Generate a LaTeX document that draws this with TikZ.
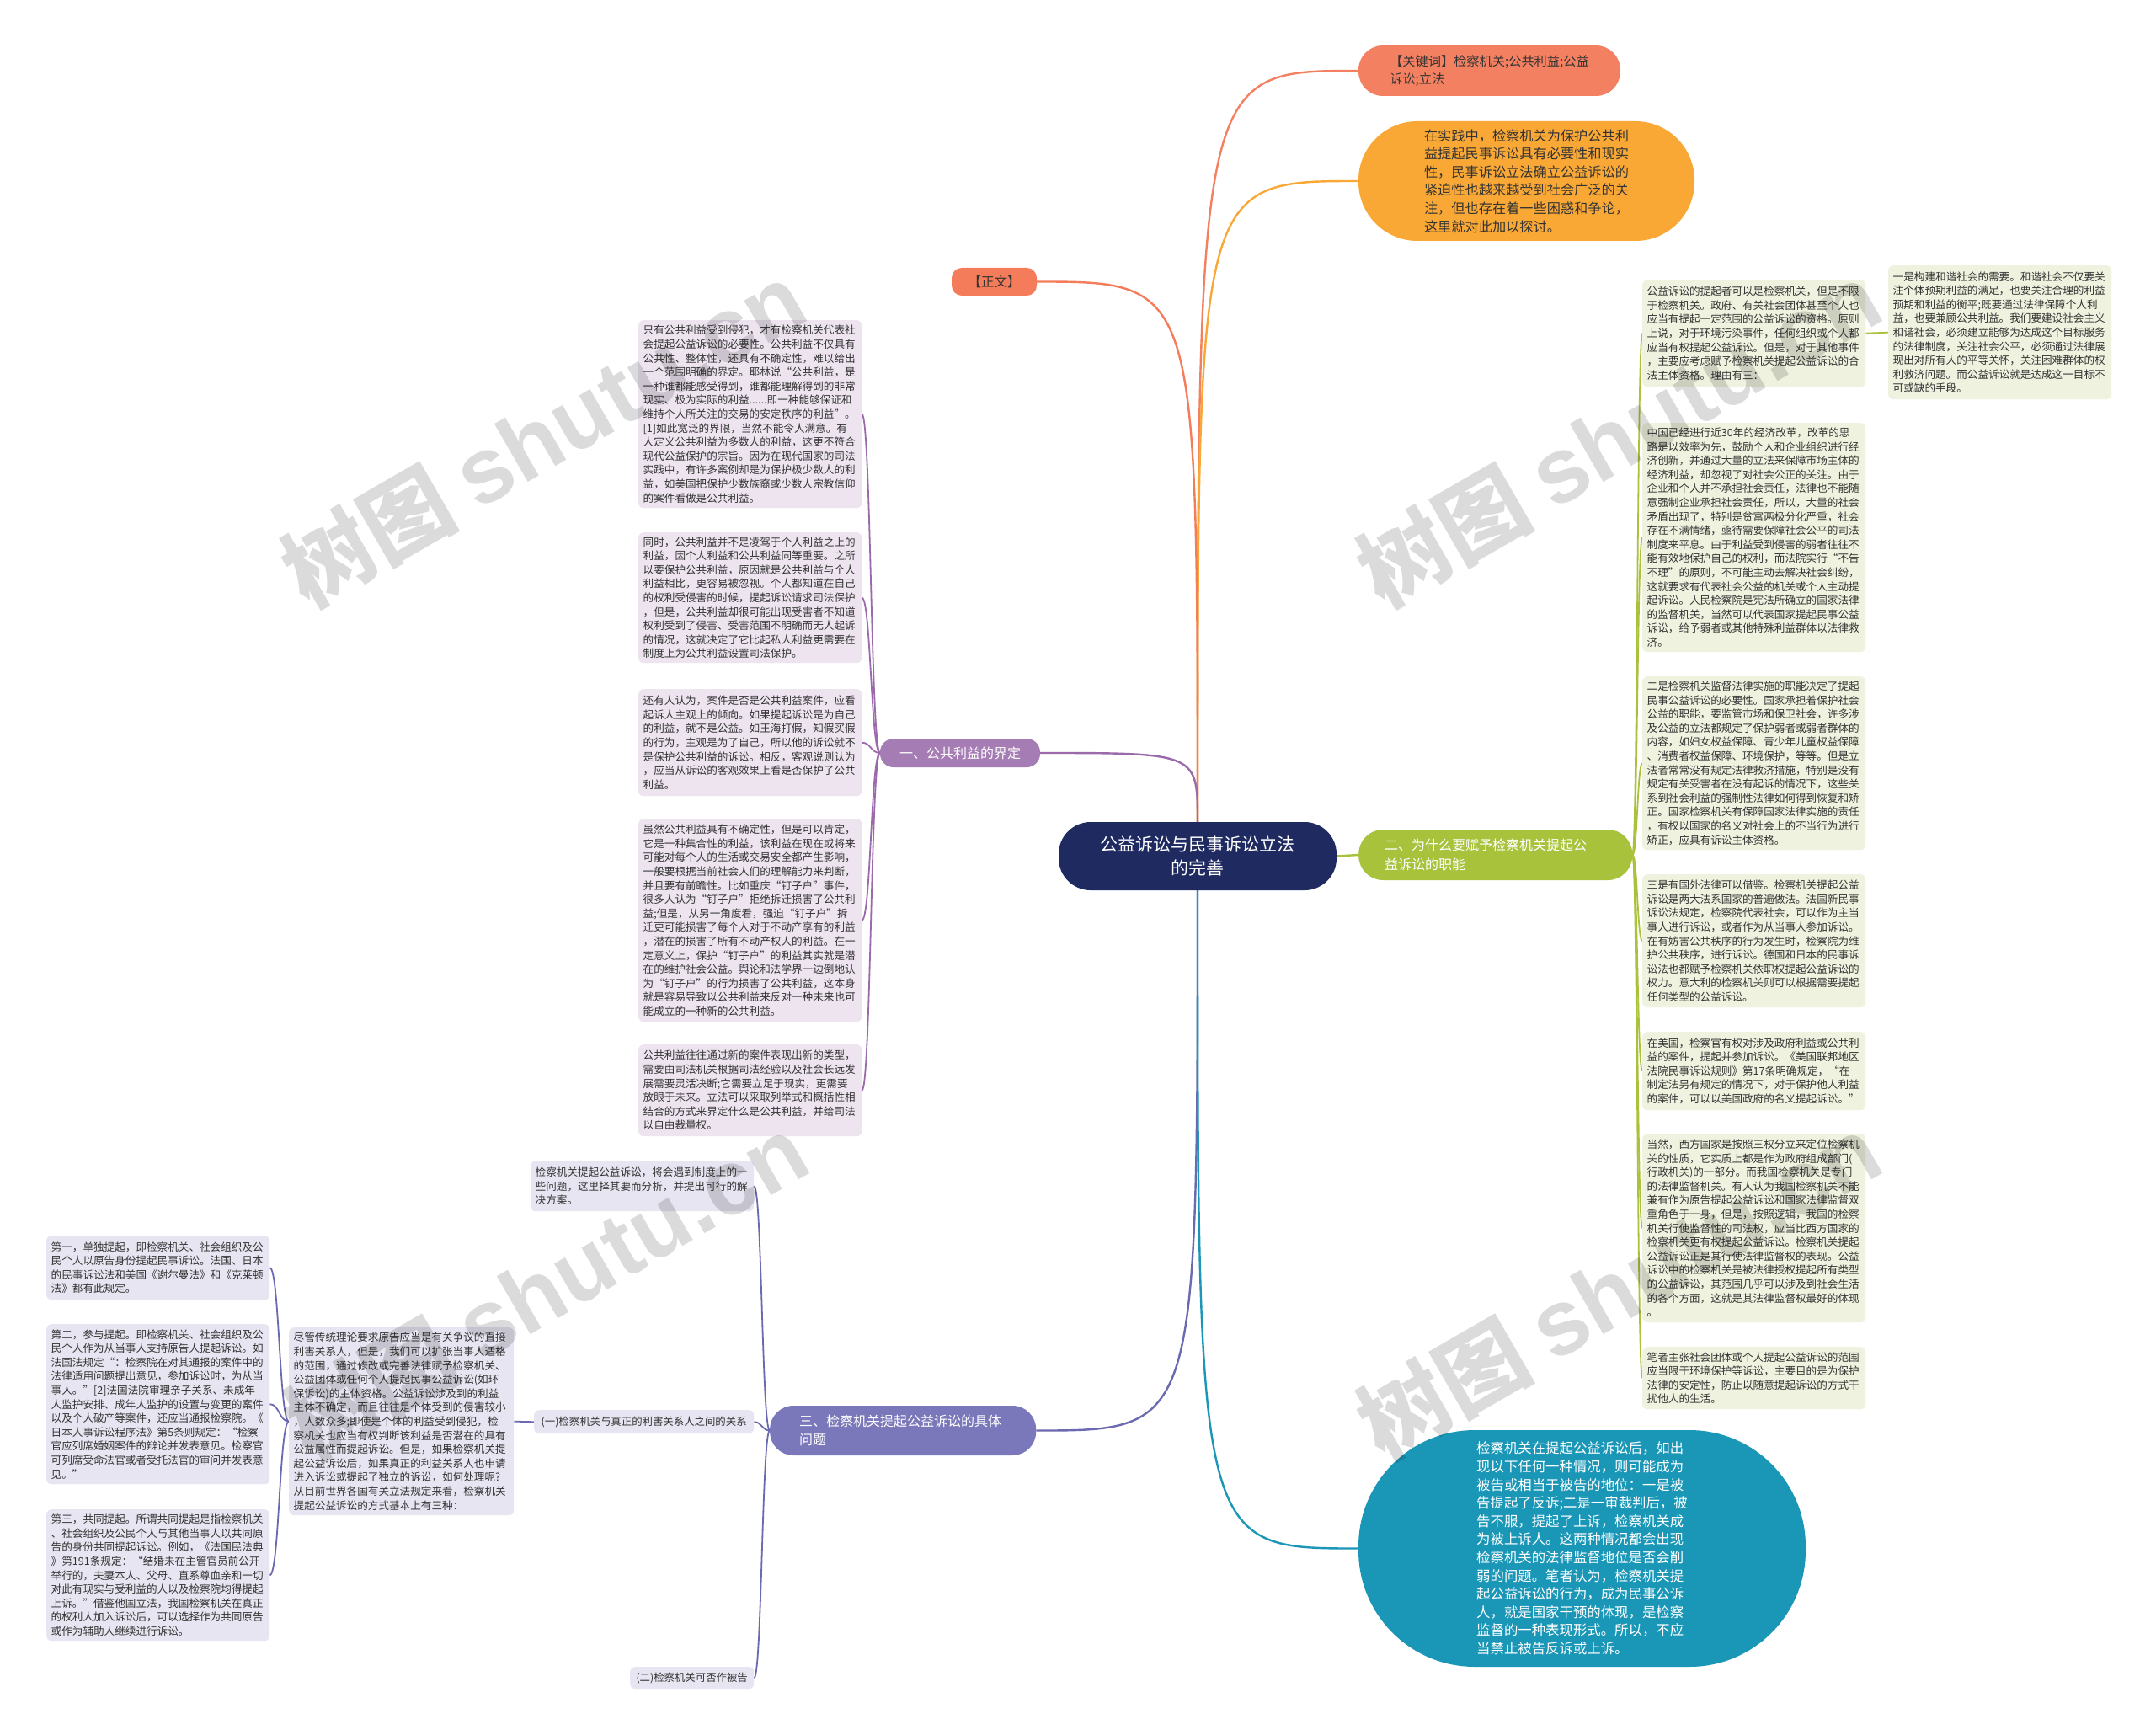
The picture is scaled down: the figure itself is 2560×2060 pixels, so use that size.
\documentclass[tikz,border=0pt]{standalone}
\usepackage{fontspec}
\setmainfont{Noto Sans CJK SC}
\newfontfamily\wmsans{Liberation Sans}
\usetikzlibrary{calc,backgrounds}
\definecolor{cKey}{HTML}{F38060}
\definecolor{cOra}{HTML}{F9A836}
\definecolor{cZw}{HTML}{F47C5A}
\definecolor{cOne}{HTML}{A57CB3}
\definecolor{cOneL}{HTML}{9A6AAA}
\definecolor{cTwo}{HTML}{A8C23C}
\definecolor{cThr}{HTML}{7A78BA}
\definecolor{cThrL}{HTML}{6B69B0}
\definecolor{cTeal}{HTML}{1A96B7}
\definecolor{cCen}{HTML}{1E2A60}
\definecolor{fOne}{HTML}{EDE4F0}
\definecolor{fTwo}{HTML}{EFF2DE}
\definecolor{fThr}{HTML}{E6E5F1}
\definecolor{tx}{HTML}{333333}
\newcommand\mmS[3]{\draw[#1] let \p1=(#2), \p2=(#3) in (\p1) .. controls ({0.5*\x1+0.5*\x2},\y1) and ({0.5*\x1+0.5*\x2},\y2) .. (\p2);}
\newcommand\mmQ[3]{\draw[#1] let \p1=(#2), \p2=(#3) in (\p1) .. controls (\x1,\y2) .. (\p2);}
\tikzset{
  every node/.style={inner sep=0pt},
  box/.style={anchor=north west, rounded corners=6pt, text width=254pt, inner xsep=5.5pt, inner ysep=3pt, align=left, text=tx, font=\fontsize{12.6}{16.6}\selectfont},
  bone/.style={box, fill=fOne},
  btwo/.style={box, fill=fTwo},
  bthr/.style={box, fill=fThr},
  mainline/.style={line width=2.4pt},
  subline/.style={line width=1.8pt},
  wm/.style={rotate=30, text=black, text opacity=0.14, font=\fontsize{105}{110}\selectfont\bfseries},
}
\begin{document}
\begin{tikzpicture}[x=1pt,y=-1pt]
\useasboundingbox (0,0) rectangle (2560,2060);

% central and first-level nodes
\node (cen) [fill=cCen, rounded corners=38pt, minimum width=330pt, minimum height=81pt, align=center, text=white, font=\fontsize{21}{28}\selectfont] at (1422,1016.5) {公益诉讼与民事诉讼立法\\的完善};
\node (kw) [fill=cKey, rounded corners=29pt, minimum width=311pt, minimum height=60pt, align=left, text=tx, font=\fontsize{15.2}{21.7}\selectfont] at (1768.5,84) {【关键词】检察机关;公共利益;公益\\诉讼;立法};
\node (ora) [fill=cOra, rounded corners=70pt, minimum width=399pt, minimum height=142pt, align=left, text=tx, font=\fontsize{16.2}{21.6}\selectfont] at (1812.5,215) {在实践中，检察机关为保护公共利\\益提起民事诉讼具有必要性和现实\\性，民事诉讼立法确立公益诉讼的\\紧迫性也越来越受到社会广泛的关\\注，但也存在着一些困惑和争论，\\这里就对此加以探讨。};
\node (zw) [fill=cZw, rounded corners=12pt, minimum width=101pt, minimum height=33pt, text=tx, font=\fontsize{15.5}{18}\selectfont] at (1180.5,334.5) {【正文】};
\node (one) [fill=cOne, rounded corners=16pt, minimum width=190pt, minimum height=34pt, text=white, font=\fontsize{16}{20}\selectfont] at (1140,894) {一、公共利益的界定};
\node (two) [anchor=west, fill=cTwo, rounded corners=29pt, text width=263pt, inner xsep=31pt, minimum height=60pt, align=left, text=white, font=\fontsize{16}{22.5}\selectfont] at (1613,1015) {二、为什么要赋予检察机关提起公\\益诉讼的职能};
\node (thr) [anchor=west, fill=cThr, rounded corners=28pt, text width=246pt, inner xsep=35pt, minimum height=59pt, align=left, text=white, font=\fontsize{16}{22.5}\selectfont] at (914,1698.5) {三、检察机关提起公益诉讼的具体\\问题};
\node (teal) [fill=cTeal, rounded corners=138pt, minimum width=531pt, minimum height=281pt, align=left, text=white, font=\fontsize{16.4}{21.6}\selectfont] at (1878.5,1838.5) {检察机关在提起公益诉讼后，如出\\现以下任何一种情况，则可能成为\\被告或相当于被告的地位：一是被\\告提起了反诉;二是一审裁判后，被\\告不服，提起了上诉，检察机关成\\为被上诉人。这两种情况都会出现\\检察机关的法律监督地位是否会削\\弱的问题。笔者认为，检察机关提\\起公益诉讼的行为，成为民事公诉\\人，就是国家干预的体现，是检察\\监督的一种表现形式。所以，不应\\当禁止被告反诉或上诉。};

% branch one boxes
\node (b1) [bone, minimum height=223pt] at (758,380) {只有公共利益受到侵犯，才有检察机关代表社\\会提起公益诉讼的必要性。公共利益不仅具有\\公共性、整体性，还具有不确定性，难以给出\\一个范围明确的界定。耶林说“公共利益，是\\一种谁都能感受得到，谁都能理解得到的非常\\现实、极为实际的利益......即一种能够保证和\\维持个人所关注的交易的安定秩序的利益”。\\ {}[1]如此宽泛的界限，当然不能令人满意。有\\人定义公共利益为多数人的利益，这更不符合\\现代公益保护的宗旨。因为在现代国家的司法\\实践中，有许多案例却是为保护极少数人的利\\益，如美国把保护少数族裔或少数人宗教信仰\\的案件看做是公共利益。};
\node (b2) [bone, minimum height=155pt] at (758,632) {同时，公共利益并不是凌驾于个人利益之上的\\利益，因个人利益和公共利益同等重要。之所\\以要保护公共利益，原因就是公共利益与个人\\利益相比，更容易被忽视。个人都知道在自己\\的权利受侵害的时候，提起诉讼请求司法保护\\，但是，公共利益却很可能出现受害者不知道\\权利受到了侵害、受害范围不明确而无人起诉\\的情况，这就决定了它比起私人利益更需要在\\制度上为公共利益设置司法保护。};
\node (b3) [bone, minimum height=127pt] at (758,818) {还有人认为，案件是否是公共利益案件，应看\\起诉人主观上的倾向。如果提起诉讼是为自己\\的利益，就不是公益。如王海打假，知假买假\\的行为，主观是为了自己，所以他的诉讼就不\\是保护公共利益的诉讼。相反，客观说则认为\\，应当从诉讼的客观效果上看是否保护了公共\\利益。};
\node (b4) [bone, minimum height=241pt] at (758,972) {虽然公共利益具有不确定性，但是可以肯定，\\它是一种集合性的利益，该利益在现在或将来\\可能对每个人的生活或交易安全都产生影响，\\一般要根据当前社会人们的理解能力来判断，\\并且要有前瞻性。比如重庆“钉子户”事件，\\很多人认为“钉子户”拒绝拆迁损害了公共利\\益;但是，从另一角度看，强迫“钉子户”拆\\迁更可能损害了每个人对于不动产享有的利益\\，潜在的损害了所有不动产权人的利益。在一\\定意义上，保护“钉子户”的利益其实就是潜\\在的维护社会公益。舆论和法学界一边倒地认\\为“钉子户”的行为损害了公共利益，这本身\\就是容易导致以公共利益来反对一种未来也可\\能成立的一种新的公共利益。};
\node (b5) [bone, minimum height=109pt] at (758,1240) {公共利益往往通过新的案件表现出新的类型，\\需要由司法机关根据司法经验以及社会长远发\\展需要灵活决断;它需要立足于现实，更需要\\放眼于未来。立法可以采取列举式和概括性相\\结合的方式来界定什么是公共利益，并给司法\\以自由裁量权。};

% branch three
\node (t0) [bthr, minimum height=60pt] at (630,1378) {检察机关提起公益诉讼，将会遇到制度上的一\\些问题，这里择其要而分析，并提出可行的解\\决方案。};
\node (t1) [anchor=north west, fill=fThr, rounded corners=6pt, minimum width=261pt, minimum height=28pt, text=tx, font=\fontsize{12.4}{15}\selectfont] at (634,1674) {(一)检察机关与真正的利害关系人之间的关系};
\node (t2) [anchor=north west, fill=fThr, rounded corners=6pt, minimum width=147pt, minimum height=26pt, text=tx, font=\fontsize{12.4}{15}\selectfont] at (748,1979) {(二)检察机关可否作被告};
\node (big) [bthr, text width=256pt, minimum height=223pt] at (343,1576) {尽管传统理论要求原告应当是有关争议的直接\\利害关系人，但是，我们可以扩张当事人适格\\的范围，通过修改或完善法律赋予检察机关、\\公益团体或任何个人提起民事公益诉讼(如环\\保诉讼)的主体资格。公益诉讼涉及到的利益\\主体不确定，而且往往是个体受到的侵害较小\\，人数众多;即使是个体的利益受到侵犯，检\\察机关也应当有权判断该利益是否潜在的具有\\公益属性而提起诉讼。但是，如果检察机关提\\起公益诉讼后，如果真正的利益关系人也申请\\进入诉讼或提起了独立的诉讼，如何处理呢?\\从目前世界各国有关立法规定来看，检察机关\\提起公益诉讼的方式基本上有三种：};
\node (f1) [bthr, minimum height=76pt] at (55,1467) {第一，单独提起，即检察机关、社会组织及公\\民个人以原告身份提起民事诉讼。法国、日本\\的民事诉讼法和美国《谢尔曼法》和《克莱顿\\法》都有此规定。};
\node (f2) [bthr, minimum height=190pt] at (55,1572) {第二，参与提起。即检察机关、社会组织及公\\民个人作为从当事人支持原告人提起诉讼。如\\法国法规定“：检察院在对其通报的案件中的\\法律适用问题提出意见，参加诉讼时，为从当\\事人。”[2]法国法院审理亲子关系、未成年\\人监护安排、成年人监护的设置与变更的案件\\以及个人破产等案件，还应当通报检察院。《\\日本人事诉讼程序法》第5条则规定：“检察\\官应列席婚姻案件的辩论并发表意见。检察官\\可列席受命法官或者受托法官的审问并发表意\\见。”};
\node (f3) [bthr, minimum height=156pt] at (55,1792) {第三，共同提起。所谓共同提起是指检察机关\\、社会组织及公民个人与其他当事人以共同原\\告的身份共同提起诉讼。例如，《法国民法典\\》第191条规定：“结婚未在主管官员前公开\\举行的，夫妻本人、父母、直系尊血亲和一切\\对此有现实与受利益的人以及检察院均得提起\\上诉。”借鉴他国立法，我国检察机关在真正\\的权利人加入诉讼后，可以选择作为共同原告\\或作为辅助人继续进行诉讼。};

% branch two
\node (A) [btwo, minimum height=127pt] at (1950,332) {公益诉讼的提起者可以是检察机关，但是不限\\于检察机关。政府、有关社会团体甚至个人也\\应当有提起一定范围的公益诉讼的资格。原则\\上说，对于环境污染事件，任何组织或个人都\\应当有权提起公益诉讼。但是，对于其他事件\\，主要应考虑赋予检察机关提起公益诉讼的合\\法主体资格。理由有三：};
\node (B) [btwo, minimum height=159pt] at (2242,315) {一是构建和谐社会的需要。和谐社会不仅要关\\注个体预期利益的满足，也要关注合理的利益\\预期和利益的衡平;既要通过法律保障个人利\\益，也要兼顾公共利益。我们要建设社会主义\\和谐社会，必须建立能够为达成这个目标服务\\的法律制度，关注社会公平，必须通过法律展\\现出对所有人的平等关怀，关注困难群体的权\\利救济问题。而公益诉讼就是达成这一目标不\\可或缺的手段。};
\node (C) [btwo, minimum height=272pt] at (1950,502) {中国已经进行近30年的经济改革，改革的思\\路是以效率为先，鼓励个人和企业组织进行经\\济创新，并通过大量的立法来保障市场主体的\\经济利益，却忽视了对社会公正的关注。由于\\企业和个人并不承担社会责任，法律也不能随\\意强制企业承担社会责任，所以，大量的社会\\矛盾出现了，特别是贫富两极分化严重，社会\\存在不满情绪，亟待需要保障社会公平的司法\\制度来平息。由于利益受到侵害的弱者往往不\\能有效地保护自己的权利，而法院实行“不告\\不理”的原则，不可能主动去解决社会纠纷，\\这就要求有代表社会公益的机关或个人主动提\\起诉讼。人民检察院是宪法所确立的国家法律\\的监督机关，当然可以代表国家提起民事公益\\诉讼，给予弱者或其他特殊利益群体以法律救\\济。};
\node (D) [btwo, minimum height=206pt] at (1950,803) {二是检察机关监督法律实施的职能决定了提起\\民事公益诉讼的必要性。国家承担着保护社会\\公益的职能，要监管市场和保卫社会，许多涉\\及公益的立法都规定了保护弱者或弱者群体的\\内容，如妇女权益保障、青少年儿童权益保障\\、消费者权益保障、环境保护，等等。但是立\\法者常常没有规定法律救济措施，特别是没有\\规定有关受害者在没有起诉的情况下，这些关\\系到社会利益的强制性法律如何得到恢复和矫\\正。国家检察机关有保障国家法律实施的责任\\，有权以国家的名义对社会上的不当行为进行\\矫正，应具有诉讼主体资格。};
\node (E) [btwo, minimum height=158pt] at (1950,1038) {三是有国外法律可以借鉴。检察机关提起公益\\诉讼是两大法系国家的普遍做法。法国新民事\\诉讼法规定，检察院代表社会，可以作为主当\\事人进行诉讼，或者作为从当事人参加诉讼。\\在有妨害公共秩序的行为发生时，检察院为维\\护公共秩序，进行诉讼。德国和日本的民事诉\\讼法也都赋予检察机关依职权提起公益诉讼的\\权力。意大利的检察机关则可以根据需要提起\\任何类型的公益诉讼。};
\node (F) [btwo, minimum height=93pt] at (1950,1225) {在美国，检察官有权对涉及政府利益或公共利\\益的案件，提起并参加诉讼。《美国联邦地区\\法院民事诉讼规则》第17条明确规定，“在\\制定法另有规定的情况下，对于保护他人利益\\的案件，可以以美国政府的名义提起诉讼。”};
\node (G) [btwo, minimum height=224pt] at (1950,1346) {当然，西方国家是按照三权分立来定位检察机\\关的性质，它实质上都是作为政府组成部门(\\行政机关)的一部分。而我国检察机关是专门\\的法律监督机关。有人认为我国检察机关不能\\兼有作为原告提起公益诉讼和国家法律监督双\\重角色于一身，但是，按照逻辑，我国的检察\\机关行使监督性的司法权，应当比西方国家的\\检察机关更有权提起公益诉讼。检察机关提起\\公益诉讼正是其行使法律监督权的表现。公益\\诉讼中的检察机关是被法律授权提起所有类型\\的公益诉讼，其范围几乎可以涉及到社会生活\\的各个方面，这就是其法律监督权最好的体现\\。};
\node (H) [btwo, minimum height=74pt] at (1950,1599) {笔者主张社会团体或个人提起公益诉讼的范围\\应当限于环境保护等诉讼，主要目的是为保护\\法律的安定性，防止以随意提起诉讼的方式干\\扰他人的生活。};

% connectors
\begin{scope}[on background layer]
\fill[white] (0,0) rectangle (2560,2060);
\mmQ{mainline,cKey}{cen.north}{kw.west}
\mmQ{mainline,cOra}{cen.north}{ora.west}
\mmQ{mainline,cZw}{cen.north}{zw.east}
\mmQ{mainline,cOneL}{cen.north}{one.east}
\draw[mainline,cTwo] (cen.east) -- (two.west);
\mmQ{mainline,cThrL}{cen.south}{thr.east}
\mmQ{mainline,cTeal}{cen.south}{teal.west}
\foreach \b in {b1,b2,b3,b4,b5}{\mmS{subline,cOneL}{one.west}{\b.east}}
\foreach \b in {t0,t1,t2}{\mmS{subline,cThrL}{thr.west}{\b.east}}
\mmS{subline,cThrL}{t1.west}{big.east}
\foreach \b in {f1,f2,f3}{\mmS{subline,cThrL}{big.west}{\b.east}}
\foreach \b in {A,C,D,E,F,G,H}{\mmS{subline,cTwo}{two.east}{\b.west}}
\mmS{subline,cTwo}{A.east}{B.west}
\end{scope}

% watermarks
\node (wm1) [wm] at (645,516) {树图 {\wmsans\fontsize{110}{110}\selectfont shutu.cn}};
\node (wm2) [wm] at (1922,516) {树图 {\wmsans\fontsize{110}{110}\selectfont shutu.cn}};
\node (wm3) [wm] at (648,1528) {树图 {\wmsans\fontsize{110}{110}\selectfont shutu.cn}};
\node (wm4) [wm] at (1922,1528) {树图 {\wmsans\fontsize{110}{110}\selectfont shutu.cn}};
\end{tikzpicture}
\end{document}
